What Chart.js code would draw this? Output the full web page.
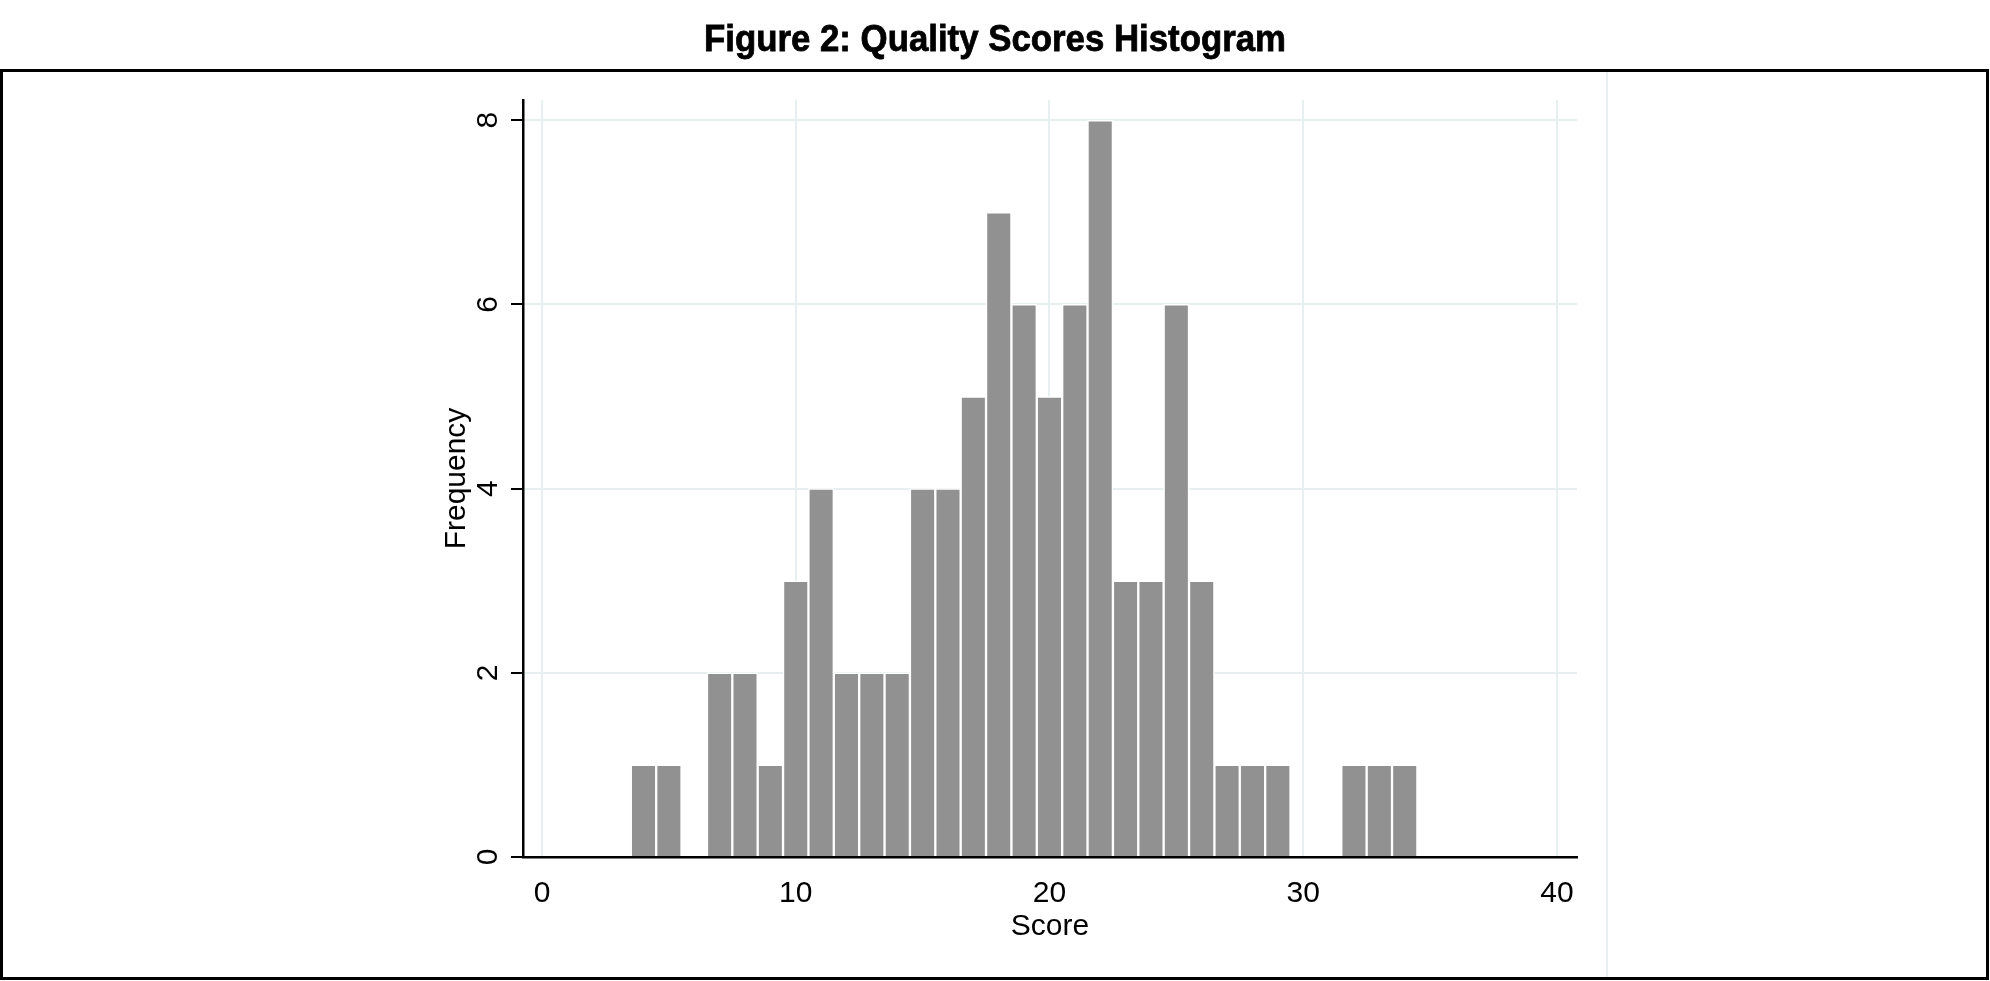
<!DOCTYPE html>
<html>
<head>
<meta charset="utf-8">
<script src="https://cdn.jsdelivr.net/npm/chart.js@4.4.1/dist/chart.umd.min.js"></script>
<style>
  html, body { margin: 0; padding: 0; background: #ffffff; }
  #wrap { position: relative; width: 1990px; height: 981px; }
  canvas { display: block; }
</style>
</head>
<body>
<div id="wrap"><canvas id="c" width="1990" height="981"></canvas></div>
<script>
// ---- data ----
const titleText = "Figure 2: Quality Scores Histogram";
const xTitle = "Score";
const yTitle = "Frequency";
const binCenters = [4, 5, 6, 7, 8, 9, 10, 11, 12, 13, 14, 15, 16, 17, 18, 19, 20, 21, 22, 23, 24, 25, 26, 27, 28, 29, 30, 31, 32, 33, 34];
const frequencies = [1, 1, 0, 2, 2, 1, 3, 4, 2, 2, 2, 4, 4, 5, 7, 6, 5, 6, 8, 3, 3, 6, 3, 1, 1, 1, 0, 0, 1, 1, 1];
const xTicks = [0, 10, 20, 30, 40];
const yTicks = [0, 2, 4, 6, 8];

const points = binCenters.map((c, i) => ({ x: c, y: frequencies[i] }));

const GRID = '#e8eff0';

const framePlugin = {
  id: 'frame',
  beforeDraw(chart) {
    const ctx = chart.ctx;
    ctx.save();
    ctx.fillStyle = '#ffffff';
    ctx.fillRect(0, 0, chart.width, chart.height);
    // light separator line on the right
    ctx.strokeStyle = GRID;
    ctx.lineWidth = 2;
    ctx.beginPath();
    ctx.moveTo(1607, 72);
    ctx.lineTo(1607, 977);
    ctx.stroke();
    ctx.restore();
  },
  afterDraw(chart) {
    const ctx = chart.ctx;
    ctx.save();
    ctx.strokeStyle = '#000000';
    ctx.lineWidth = 3;
    ctx.strokeRect(1.5, 70.5, 1986, 908);
    // condensed heavy title (real text, horizontally compressed)
    ctx.font = 'bold 37px "Liberation Sans", Arial, sans-serif';
    ctx.fillStyle = '#000000';
    ctx.textAlign = 'center';
    ctx.textBaseline = 'alphabetic';
    const w = ctx.measureText(titleText).width;
    const sx = 582 / w;
    ctx.translate(995, 51);
    ctx.scale(sx, 1);
    ctx.fillText(titleText, 0, 0);
    ctx.lineWidth = 0.8;
    ctx.strokeText(titleText, 0, 0);
    ctx.restore();
  }
};

new Chart(document.getElementById('c'), {
  type: 'bar',
  data: {
    datasets: [{
      data: points,
      backgroundColor: '#919191',
      borderColor: '#ffffff',
      borderWidth: 1.5,
      borderSkipped: 'start',
      barPercentage: 1,
      categoryPercentage: 1
    }]
  },
  options: {
    responsive: false,
    animation: false,
    events: [],
    layout: { padding: { left: 400, right: 413, top: 100, bottom: 0 } },
    plugins: {
      legend: { display: false },
      tooltip: { enabled: false },
      title: { display: false }
    },
    scales: {
      x: {
        type: 'linear',
        min: -0.749,
        max: 40.79,
        offset: false,
        afterBuildTicks(scale) { scale.ticks = xTicks.map(v => ({ value: v })); },
        afterFit(scale) { scale.height = 124; },
        grid: { color: GRID, lineWidth: 2, drawTicks: false, offset: false },
        border: { display: true, color: '#000000', width: 2.5 },
        ticks: {
          color: '#000000',
          padding: 19,
          maxRotation: 0,
          minRotation: 0,
          autoSkip: false,
          font: { family: '"Liberation Sans", Arial, sans-serif', size: 30 }
        },
        title: {
          display: true,
          text: xTitle,
          color: '#000000',
          font: { family: '"Liberation Sans", Arial, sans-serif', size: 30, lineHeight: 1.2 },
          padding: { top: 0, bottom: 36.5 }
        }
      },
      y: {
        type: 'linear',
        min: 0,
        max: 8.22,
        afterBuildTicks(scale) { scale.ticks = yTicks.map(v => ({ value: v })); },
        afterFit(scale) { scale.width = 123; },
        grid: { color: GRID, lineWidth: 2, drawTicks: true, tickLength: 12, tickColor: '#000000', tickWidth: 2 },
        border: { display: true, color: '#000000', width: 2.5 },
        ticks: {
          color: '#000000',
          padding: 14,
          minRotation: 90,
          maxRotation: 90,
          crossAlign: 'center',
          autoSkip: false,
          font: { family: '"Liberation Sans", Arial, sans-serif', size: 30 }
        },
        title: {
          display: true,
          text: yTitle,
          color: '#000000',
          font: { family: '"Liberation Sans", Arial, sans-serif', size: 30, lineHeight: 1.2 },
          padding: { top: 38.4, bottom: 0 }
        }
      }
    }
  },
  plugins: [framePlugin]
});
</script>
</body>
</html>
